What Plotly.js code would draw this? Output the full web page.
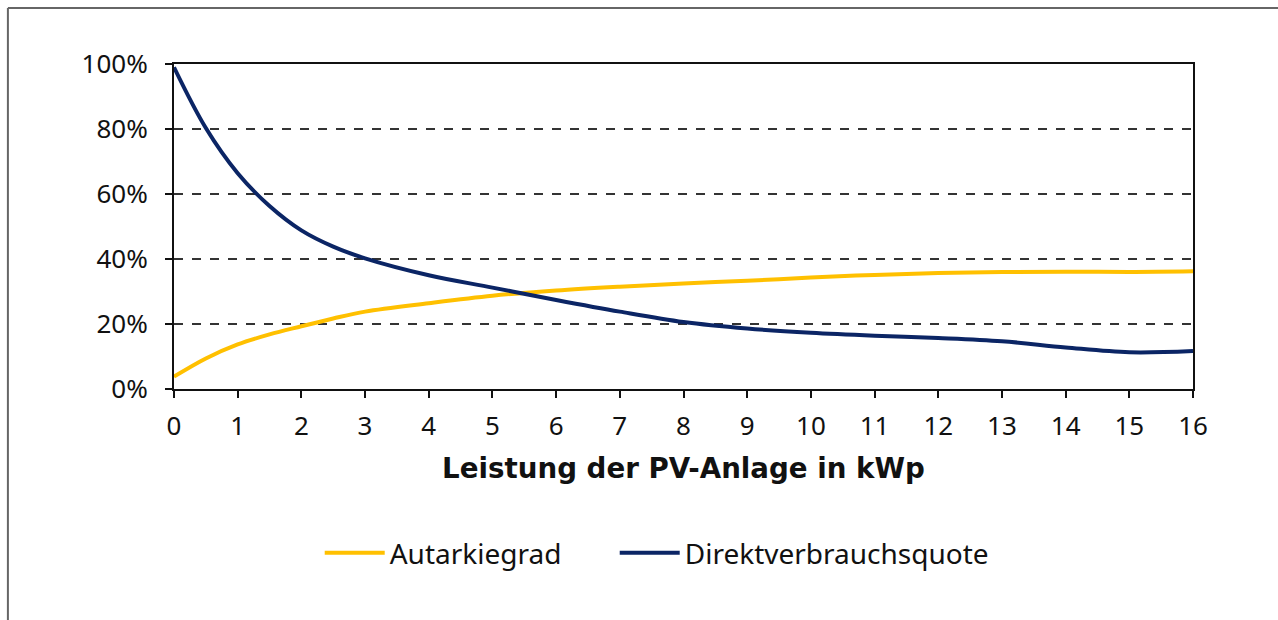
<!DOCTYPE html>
<html>
<head>
<meta charset="utf-8">
<script src="https://cdn.plot.ly/plotly-3.0.1.min.js"></script>
<style>
  body { margin: 0; background: #fff; }
  #graph { width: 1278px; height: 620px; }
</style>
</head>
<body>
<div id="graph"></div>
<script>
// PV-Leistung in kWp
var kwp = [0, 0.5, 1, 1.5, 2, 2.5, 3, 4, 5, 6, 7, 8, 9, 10, 11, 12, 13, 14, 15, 16];

// Anteile in Prozent
var autarkie = [3.8, 9.4, 13.7, 16.8, 19.3, 21.7, 23.8, 26.4, 28.7, 30.3, 31.5, 32.5, 33.3, 34.3, 35.1, 35.7, 36.0, 36.1, 36.0, 36.2];
var direkt = [99, 80.3, 66.4, 56.3, 48.8, 43.8, 40.2, 35.0, 31.2, 27.4, 23.8, 20.6, 18.6, 17.3, 16.4, 15.7, 14.7, 12.8, 11.3, 11.7];

var yTicks = [0, 20, 40, 60, 80, 100];
var yTickText = ['0%', '20%', '40%', '60%', '80%', '100%'];

var fontTick = 'Noto Sans, Open Sans, sans-serif';

var line1 = {
  x: kwp,
  y: autarkie,
  type: 'scatter',
  mode: 'lines',
  name: 'Autarkiegrad',
  legend: 'legend',
  line: { color: '#FFC000', width: 4, shape: 'spline', smoothing: 1 }
};

var line2 = {
  x: kwp,
  y: direkt,
  type: 'scatter',
  mode: 'lines',
  name: 'Direktverbrauchsquote',
  legend: 'legend2',
  line: { color: '#0B2565', width: 4, shape: 'spline', smoothing: 1 }
};

var legFont = { family: fontTick, size: 28, color: '#111' };

var layout = {
  width: 1278,
  height: 620,
  margin: { l: 174, r: 85, t: 64, b: 231 },
  paper_bgcolor: '#fff',
  plot_bgcolor: '#fff',
  showlegend: true,
  legend: {
    orientation: 'h',
    x: 0.143,
    xanchor: 'left',
    y: -0.505,
    yanchor: 'middle',
    font: legFont,
    itemwidth: 60
  },
  legend2: {
    orientation: 'h',
    x: 0.4325,
    xanchor: 'left',
    y: -0.505,
    yanchor: 'middle',
    font: legFont,
    itemwidth: 60
  },
  xaxis: {
    range: [0, 16],
    tickmode: 'linear',
    tick0: 0,
    dtick: 1,
    showgrid: false,
    zeroline: false,
    showline: true,
    mirror: true,
    linecolor: '#111',
    linewidth: 2,
    ticks: 'outside',
    ticklen: 7,
    tickwidth: 2,
    tickcolor: '#111',
    ticklabelstandoff: 6,
    tickfont: { family: fontTick, size: 26, color: '#111' },
    title: {
      text: 'Leistung der PV-Anlage in kWp',
      font: { family: 'DejaVu Sans, sans-serif', size: 27.7, color: '#111', weight: 'bold' },
      standoff: 16
    }
  },
  yaxis: {
    range: [0, 100],
    tickvals: yTicks,
    ticktext: yTickText,
    showgrid: true,
    gridcolor: '#333',
    gridwidth: 2,
    griddash: 'dash',
    zeroline: false,
    showline: true,
    mirror: true,
    linecolor: '#111',
    linewidth: 2,
    ticks: 'outside',
    ticklen: 7,
    tickwidth: 2,
    tickcolor: '#111',
    ticklabelstandoff: 12,
    tickfont: { family: fontTick, size: 26, color: '#111' }
  },
  shapes: [
    // Rahmen um die Grafik (links und oben)
    { type: 'line', xref: 'paper', yref: 'paper', x0: -0.163, x1: -0.163, y0: -0.72, y1: 1.172,
      line: { color: '#666', width: 2 } },
    { type: 'line', xref: 'paper', yref: 'paper', x0: -0.163, x1: 1.09, y0: 1.172, y1: 1.172,
      line: { color: '#666', width: 2 } }
  ]
};

Plotly.newPlot('graph', [line1, line2], layout, { displayModeBar: false, staticPlot: true });
</script>
</body>
</html>
